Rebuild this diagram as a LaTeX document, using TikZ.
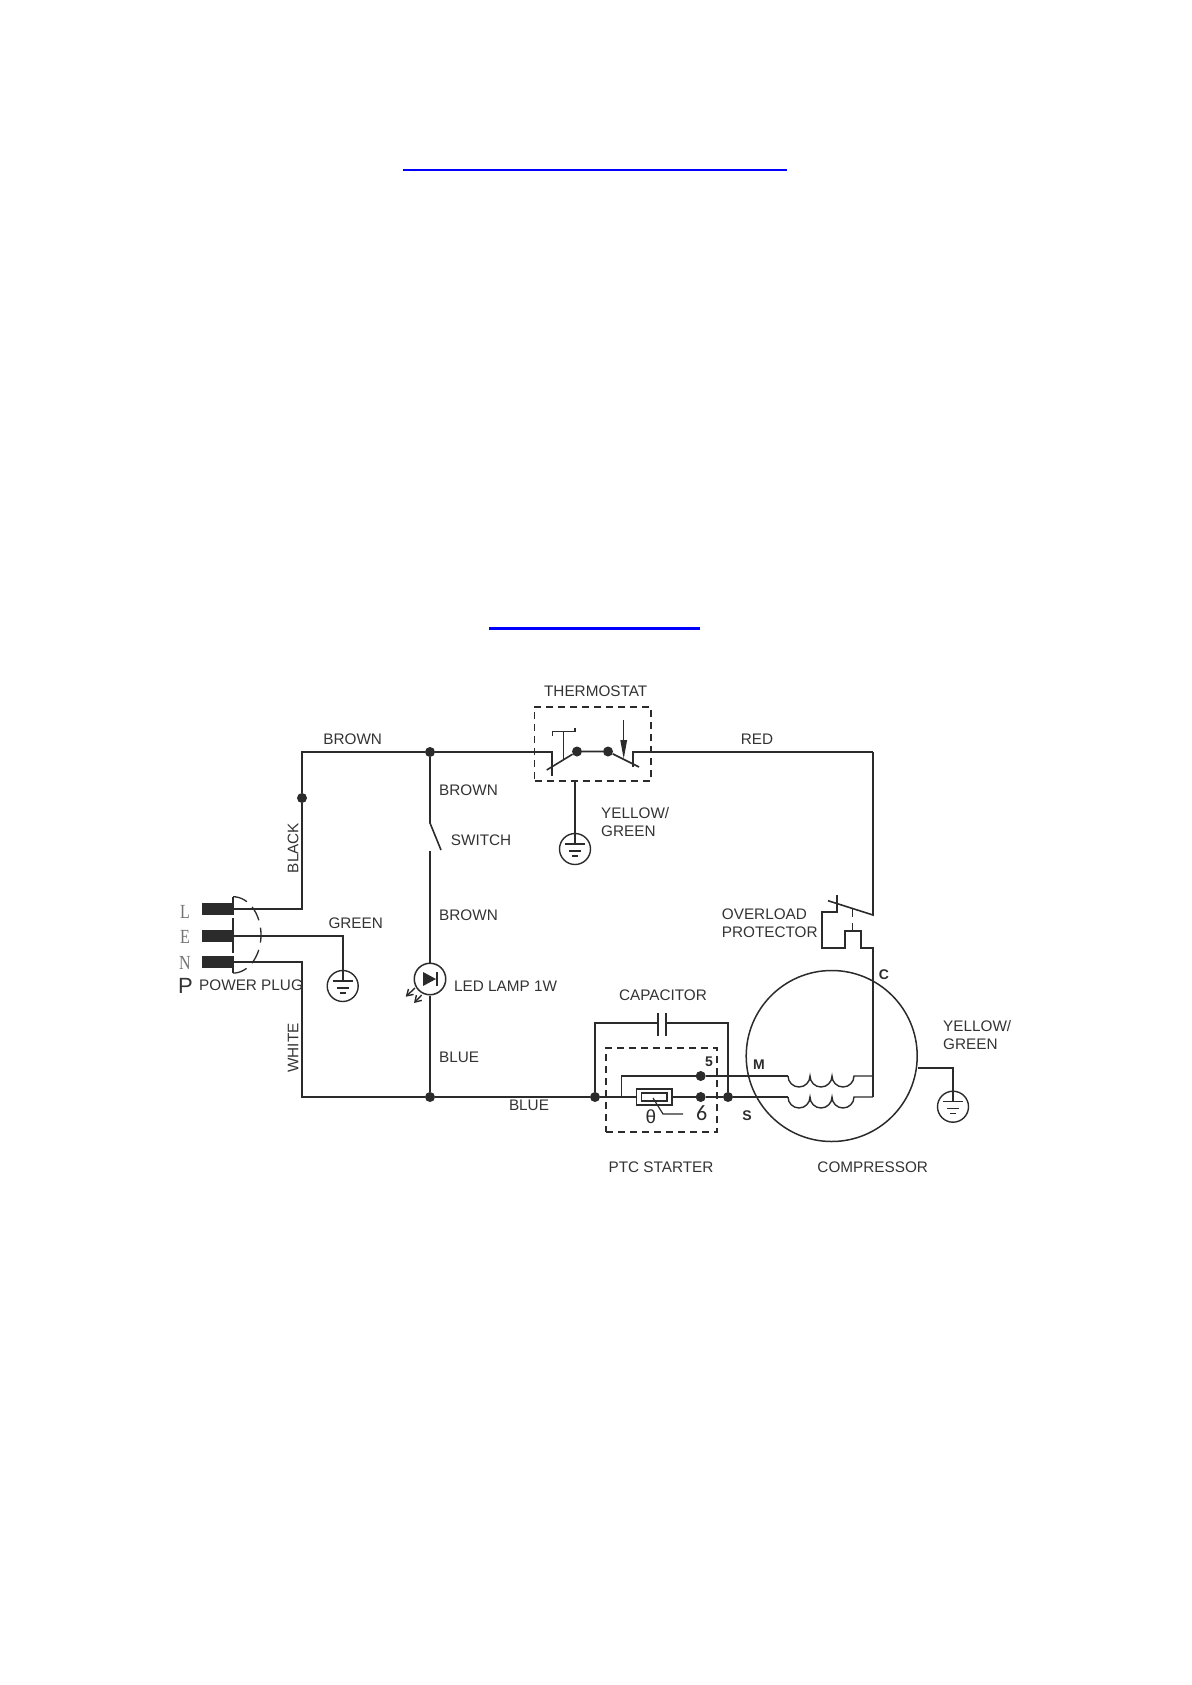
\documentclass[tikz,border=0pt]{standalone}
\usepackage{fontspec}
\setmainfont{Liberation Sans}
\newfontfamily\letterfont[FakeStretch=0.8]{Liberation Serif}
\newfontfamily\digitfont{Carlito}
\usetikzlibrary{arrows.meta}
\definecolor{ink}{HTML}{2B2B2B}
\definecolor{txt}{HTML}{333333}
\begin{document}
\begin{tikzpicture}[x=1pt,y=-1pt,
    wire/.style = {draw=ink, line width=1.6pt},
    dot/.style = {circle, fill=ink, inner sep=0pt, minimum size=10pt},
    lbl/.style = {inner sep=0pt, text=txt, font=\fontsize{15.3}{18}\selectfont, align=left},
    tag/.style = {inner sep=0pt, text=ink, font=\fontsize{14}{16}\selectfont\bfseries},
    boxd/.style = {draw=ink, line width=1.4pt, dash pattern=on 7pt off 5pt},
    earth/.style = {circle, draw=ink, line width=1.4pt, minimum size=31pt, inner sep=0pt},
    pin/.style = {fill=ink, inner sep=0pt, minimum width=32pt, minimum height=12pt},
    letter/.style = {inner sep=0pt, text=black!55, font=\letterfont\fontsize{20}{22}\selectfont}]
  \useasboundingbox (0,0) rectangle (1191,1685);
  % link underlines
  \coordinate (linka) at (403,170);   \coordinate (linkb) at (787,170);
  \coordinate (linkc) at (489,628.5); \coordinate (linkd) at (700,628.5);
  \draw[blue, line width=2pt] (linka) -- (linkb);
  \draw[blue, line width=3pt] (linkc) -- (linkd);
  % junctions
  \node (jblack) [dot] at (302,798) {};
  \node (jtop) [dot] at (430,752) {};
  \node (jled) [dot] at (430,1097) {};
  \node (jcap) [dot] at (595,1097) {};
  \node (jout) [dot] at (728,1097) {};
  \node (jfive) [dot] at (700.7,1076) {};
  \node (jsix) [dot] at (700.7,1097) {};
  \node (jta) [dot] at (577,751.5) {};
  \node (jtb) [dot] at (608,751.5) {};
  % plug
  \node (pinl) [pin] at (218,909) {};
  \node (pine) [pin] at (218,936) {};
  \node (pinn) [pin] at (218,962) {};
  \node (letl) [letter] at (185,911.5) {L};
  \node (lete) [letter] at (185,937) {E};
  \node (letn) [letter] at (185,962.5) {N};
  \node (letp) [inner sep=0pt, text=txt, font=\fontsize{22}{24}\selectfont] at (185.5,986) {P};
  \coordinate (pa) at (233,896.7); \coordinate (pb) at (233,915);
  \coordinate (pc) at (233,918);   \coordinate (pd) at (233,952.7);
  \coordinate (pe) at (233,956);   \coordinate (pf) at (233,973);
  \draw[wire] (pa) -- (pb); \draw[wire] (pc) -- (pd); \draw[wire] (pe) -- (pf);
  \draw[draw=ink, line width=1.3pt, dash pattern=on 15pt off 7.5pt] (pa) arc[start angle=-90, end angle=90, x radius=28, y radius=38.2];
  % corners of the loop
  \coordinate (cl) at (302,909);  \coordinate (ctl) at (302,752);
  \coordinate (cn) at (302,962);  \coordinate (cbl) at (302,1097);
  \coordinate (ce) at (342.7,936);
  \node (gndplug) [earth] at (342.7,986) {};
  \draw[wire] (pinl.east) -- (cl) -- (jblack) -- (ctl) -- (jtop);
  \draw[wire] (pine.east) -- (ce) -- ([yshift=5pt]gndplug.center);
  \draw[wire] (pinn.east) -- (cn) -- (cbl) -- (jled) -- (jcap);
  % switch and lamp
  \coordinate (swa) at (430,823); \coordinate (swb) at (441,850); \coordinate (swc) at (430,851);
  \node (led) [circle, draw=ink, line width=1.5pt, minimum size=31.5pt, inner sep=0pt] at (430,979) {};
  \draw[wire] (jtop) -- (swa) -- (swb);
  \draw[wire] (swc) -- (led.north);
  \draw[wire] (led.south) -- (jled);
  \coordinate (da) at (423,972); \coordinate (db) at (423,986); \coordinate (dc) at (436,979);
  \coordinate (dd) at (436.7,972); \coordinate (de) at (436.7,986);
  \fill[ink] (da) -- (db) -- (dc) -- cycle;
  \draw[ink, line width=2pt] (dd) -- (de);
  \coordinate (raa) at (415,988);   \coordinate (rab) at (405.7,996.7);
  \coordinate (rba) at (421.7,995); \coordinate (rbb) at (414,1003);
  \draw[ink, line width=1.4pt, -{Straight Barb[length=6pt,width=7.5pt]}] (raa) -- (rab);
  \draw[ink, line width=1.4pt, -{Straight Barb[length=6pt,width=7.5pt]}] (rba) -- (rbb);
  % thermostat
  \node (thbox) [boxd, inner sep=0pt, minimum width=116.3pt, minimum height=74pt] at (592.85,744) {};
  \coordinate (tia) at (552,752);   \coordinate (tib) at (552,775.7);
  \coordinate (toa) at (633,767);   \coordinate (tob) at (633,752);
  \coordinate (bla) at (546.7,770); \coordinate (blb) at (639,767);
  \coordinate (tpa) at (563.7,760); \coordinate (tpb) at (563.7,731.7);
  \coordinate (tpc) at (552.7,736); \coordinate (tpd) at (552.7,731.7);
  \coordinate (tpe) at (575,731.7); \coordinate (tpf) at (575,728);
  \coordinate (tar) at (623.7,720); \coordinate (tas) at (623.7,759);
  \coordinate (cr) at (873,752);
  \draw[wire] (jtop) -- (tia) -- (tib);
  \draw[wire] (bla) -- (jta) -- (jtb) -- (blb);
  \draw[wire, line width=1.4pt] (tpa) -- (tpb);
  \draw[wire, line width=1.4pt] (tpc) -- (tpd) -- (tpe) -- (tpf);
  \draw[ink, line width=1.3pt, -{Triangle[length=19pt,width=6.5pt]}] (tar) -- (tas);
  \draw[wire] (toa) -- (tob) -- (cr);
  \node (gndthermo) [earth] at (575,849) {};
  \draw[wire] (thbox.south -| gndthermo.center) -- ([yshift=5pt]gndthermo.center);
  % overload protector
  \coordinate (oa) at (873,915);   \coordinate (ob) at (828,900.7);
  \coordinate (oc) at (836.7,895); \coordinate (od) at (836.7,912);
  \coordinate (oe) at (822,912);   \coordinate (of) at (822,947.7);
  \coordinate (og) at (845,947.7); \coordinate (oh) at (845,931);
  \coordinate (oi) at (861,931);   \coordinate (oj) at (861,947.7);
  \coordinate (ok) at (873,947.7); \coordinate (cc) at (873,1097);
  \coordinate (cm) at (873,1076);
  \coordinate (oda) at (852.7,909); \coordinate (odb) at (852.7,917);
  \coordinate (odc) at (852.7,923);
  \draw[wire] (cr) -- (oa) -- (ob);
  \draw[wire] (oc) -- (od) -- (oe) -- (of) -- (og) -- (oh) -- (oi) -- (oj) -- (ok) -- (cc);
  \draw[wire, line width=1.3pt] (oda) -- (odb);
  \draw[wire, line width=1.3pt] (odc) -- (oh -| odc);
  % capacitor
  \coordinate (ca) at (595,1023);     \coordinate (cb) at (657.7,1023);
  \coordinate (cd) at (666,1023);     \coordinate (ce2) at (728,1023);
  \coordinate (cpa) at (657.7,1012.7); \coordinate (cpb) at (657.7,1036);
  \coordinate (cpc) at (666,1012.7);  \coordinate (cpd) at (666,1036);
  \draw[wire] (jcap) -- (ca) -- (cb);
  \draw[wire] (cd) -- (ce2) -- (jout);
  \draw[wire] (cpa) -- (cpb);
  \draw[wire] (cpc) -- (cpd);
  % ptc starter
  \node (ptcbox) [boxd, inner sep=0pt, minimum width=111pt, minimum height=84pt] at (661.5,1090) {};
  \node (ptc) [draw=ink, line width=1.5pt, inner sep=0pt, minimum width=35.3pt, minimum height=16pt] at (654.35,1097) {};
  \node (ptcin) [draw=ink, line width=1.2pt, inner sep=0pt, minimum width=25.3pt, minimum height=8pt] at (654.35,1097) {};
  \coordinate (sa) at (621.7,1097); \coordinate (sb) at (621.7,1076);
  \coordinate (coilm) at (788,1076); \coordinate (coils) at (788,1097);
  \coordinate (ta) at (653,1098);   \coordinate (tb) at (663,1114); \coordinate (tc) at (683,1114);
  \draw[wire] (jcap) -- (ptc.west);
  \draw[wire] (ptc.east) -- (jsix) -- (jout) -- (coils);
  \draw[wire, line width=1.4pt] (sa) -- (sb) -- (jfive) -- (coilm);
  \draw[ink, line width=1.2pt] (ta) -- (tb) -- (tc);
  % compressor
  \node (comp) [circle, draw=ink, line width=1.5pt, minimum size=171pt, inner sep=0pt] at (831.7,1056) {};
  \draw[wire, line width=1.4pt] (coilm) arc[start angle=180, end angle=0, radius=11] arc[start angle=180, end angle=0, radius=11] arc[start angle=180, end angle=0, radius=11] -- (cm);
  \draw[wire, line width=1.4pt] (coils) arc[start angle=180, end angle=0, radius=11] arc[start angle=180, end angle=0, radius=11] arc[start angle=180, end angle=0, radius=11] -- (cc);
  \node (gndcomp) [earth] at (953,1106.7) {};
  \coordinate (cg) at (953,1068);
  \draw[wire] (comp.center -| comp.east) ++(0,12) -- (cg) -- ([yshift=5pt]gndcomp.center);
  % earth bars
  \foreach \g in {gndplug,gndthermo,gndcomp} {
    \draw[ink, line width=1.4pt] ([shift={(-10,-5)}]\g.center) -- ([shift={(10,-5)}]\g.center);
    \draw[ink, line width=1.4pt] ([shift={(-6,2)}]\g.center) -- ([shift={(6,2)}]\g.center);
    \draw[ink, line width=1.4pt] ([shift={(-3,7)}]\g.center) -- ([shift={(3,7)}]\g.center);
  }
  % labels
  \node (lthermo) [lbl] at (595.7,691) {THERMOSTAT};
  \node (lbrown) [lbl] at (352.7,739) {BROWN};
  \node (lred) [lbl] at (757,739) {RED};
  \node (lbrownb) [lbl, anchor=west] at (439,790.7) {BROWN};
  \node (lswitch) [lbl, anchor=west] at (450.7,840.7) {SWITCH};
  \node (lbrownc) [lbl, anchor=west] at (439,915.7) {BROWN};
  \node (lled) [lbl, anchor=west] at (454,986.7) {LED LAMP 1W};
  \node (lbluea) [lbl, anchor=west] at (439,1057) {BLUE};
  \node (lblueb) [lbl] at (529,1105) {BLUE};
  \node (lgreen) [lbl] at (355.7,923) {GREEN};
  \node (lplug) [lbl, anchor=west] at (199,985.7) {POWER PLUG};
  \node (lblack) [lbl, rotate=90] at (293,848) {BLACK};
  \node (lwhite) [lbl, rotate=90] at (293,1048) {WHITE};
  \node (lyga) [lbl, anchor=west] at (601,822) {YELLOW/\\GREEN};
  \node (lygb) [lbl, anchor=west] at (943,1035) {YELLOW/\\GREEN};
  \node (lover) [lbl, anchor=west] at (721.7,923.5) {OVERLOAD\\PROTECTOR};
  \node (lcap) [lbl] at (663,995) {CAPACITOR};
  \node (lptc) [lbl] at (661,1167) {PTC STARTER};
  \node (lcomp) [lbl] at (872.7,1167) {COMPRESSOR};
  \node (lc) [tag] at (884,975) {C};
  \node (lm) [tag] at (759,1065) {M};
  \node (ls) [tag] at (747,1116) {S};
  \node (lfive) [tag] at (709,1062) {5};
  \node (lsix) [inner sep=0pt, text=ink, font=\digitfont\fontsize{22}{24}\selectfont] at (701.7,1112.7) {6};
  \node (ltheta) [inner sep=0pt, text=ink, font=\fontsize{19}{22}\selectfont] at (651,1117) {θ};
\end{tikzpicture}
\end{document}
